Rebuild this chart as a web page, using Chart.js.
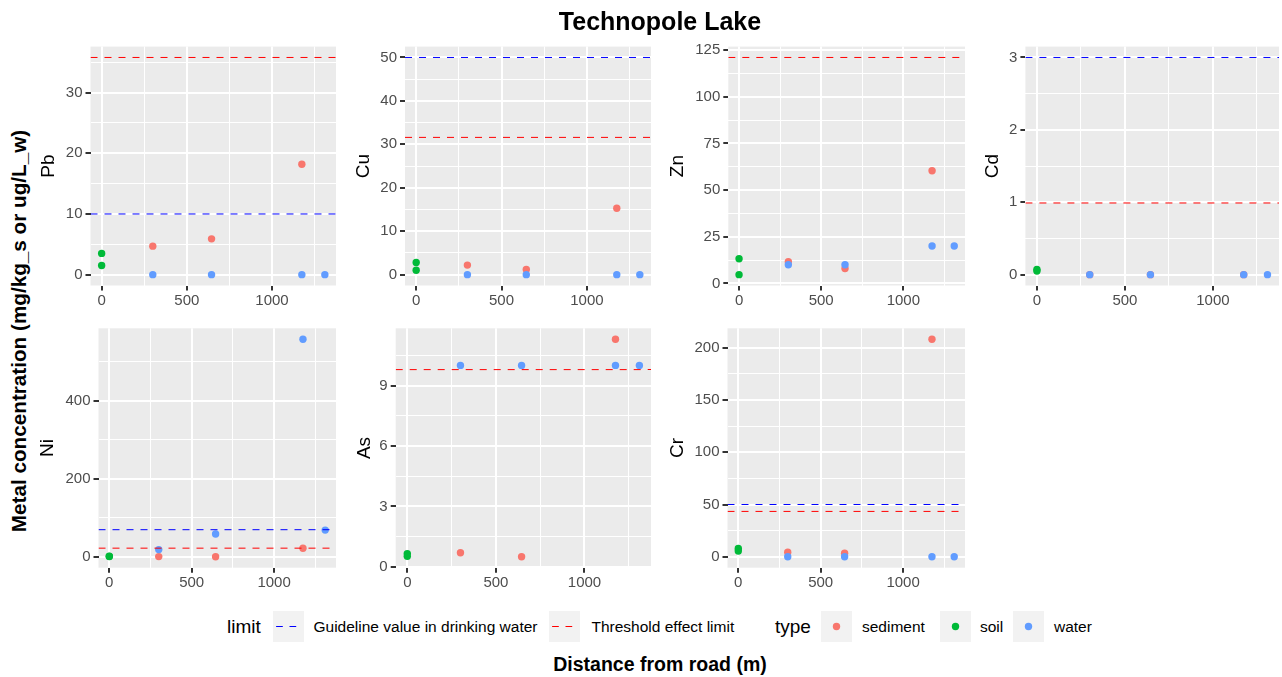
<!DOCTYPE html>
<html>
<head>
<meta charset="utf-8">
<title>Technopole Lake</title>
<script src="https://cdn.jsdelivr.net/npm/chart.js@4.4.1/dist/chart.umd.min.js"></script>
<style>
  html, body { margin: 0; padding: 0; background: #ffffff; overflow: hidden; }
  body { width: 1282px; height: 677px; position: relative; font-family: 'Liberation Sans', Arial, sans-serif; }
  .abs { position: absolute; white-space: nowrap; }
  canvas { position: absolute; display: block; }
  .key { position: absolute; width: 31px; height: 31px; background: #F2F2F2; }
  .key svg { display: block; }
</style>
</head>
<body>
<script>
// ---- data ---------------------------------------------------------------
const metals = ['Pb', 'Cu', 'Zn', 'Cd', 'Ni', 'As', 'Cr'];
const typeNames = ['sediment', 'soil', 'water'];
const limitNames = ['Guideline value in drinking water', 'Threshold effect limit'];

// distance from road (m) of each sample, per sample type
const soilDistance = [0, 0];
const sedimentDistance = [300, 645, 1175];
const waterDistance = [300, 645, 1175, 1310];

// concentrations, one row per metal (same order as `metals`)
const soilValues = [
  [3.5, 1.5], [2.8, 1.0], [13.2, 4.7], [0.07, 0.05], [2, 1.5], [0.66, 0.53], [8, 5.5]
];
const sedimentValues = [
  [4.7, 5.9, 18.2], [2.2, 1.2, 15.3], [11.6, 8.0, 60.3], [0, 0, 0],
  [1, 0.5, 22.5], [0.7, 0.5, 11.3], [4.3, 3.5, 208]
];
const waterValues = [
  [0, 0, 0, 0], [0, 0, 0, 0], [10, 10, 20, 20], [0, 0, 0, 0],
  [19, 59, 558, 69], [10, 10, 10, 10], [0, 0, 0, 0]
];

// reference limits per metal (null = no line)
const guidelineValues = [10, 50, null, 3, 70, null, 50];
const thresholdValues = [35.8, 31.6, 121, 0.99, 22.7, 9.79, 43.4];

// axis breaks
const xBreaks = [0, 500, 1000];
const yBreaks = [
  [0, 10, 20, 30], [0, 10, 20, 30, 40, 50], [0, 25, 50, 75, 100, 125], [0, 1, 2, 3],
  [0, 200, 400], [0, 3, 6, 9], [0, 50, 100, 150, 200]
];

// ---- styling and layout -------------------------------------------------
const FONT = "'Liberation Sans', Arial, sans-serif";
const typeColors = ['#F8766D', '#00BA38', '#619CFF'];
const limitColors = ['#0000FF', '#FF0000'];
const PANEL_BG = '#EBEBEB';

// plotting region of every small panel and the centre of its y title
const panelBoxes = [
  { l: 90.5,  t: 46.6,  r: 336,  b: 285.5, tx: 48 },
  { l: 405,   t: 46.6,  r: 651,  b: 285.5, tx: 363 },
  { l: 728.3, t: 46.6,  r: 965,  b: 285.5, tx: 677.5 },
  { l: 1025.4,t: 46.6,  r: 1279, b: 285.5, tx: 992.5 },
  { l: 98.5,  t: 328.3, r: 336,  b: 567.7, tx: 47.5 },
  { l: 395.7, t: 328.3, r: 651,  b: 567.7, tx: 364 },
  { l: 727.5, t: 328.3, r: 965,  b: 567.7, tx: 677 }
];

Chart.defaults.font.family = FONT;

function expandRange(vals) {
  const lo = Math.min(...vals), hi = Math.max(...vals);
  const pad = (hi - lo) * 0.05;
  return [lo - pad, hi + pad];
}

// major breaks plus the half-way minor breaks that fall inside the range
function withMinor(major, lo, hi) {
  const half = (major[1] - major[0]) / 2;
  const out = [];
  for (let v = major[0] - half; v <= major[major.length - 1] + half + 1e-9; v += half) {
    const r = +v.toFixed(6);
    if (r >= lo && r <= hi) out.push(r);
  }
  return out;
}
const isMajor = (major, v) => major.some(m => Math.abs(m - v) < 1e-9);

const panelBackground = {
  id: 'panelBackground',
  beforeDraw(chart) {
    const { ctx, chartArea: a } = chart;
    ctx.save();
    ctx.fillStyle = PANEL_BG;
    ctx.fillRect(a.left, a.top, a.right - a.left, a.bottom - a.top);
    ctx.restore();
  }
};

const allDistances = [...soilDistance, ...sedimentDistance, ...waterDistance];
const xRange = expandRange(allDistances);
const xTicks = withMinor(xBreaks, xRange[0], xRange[1]);

function axisGrid(major) {
  return {
    color: '#FFFFFF',
    lineWidth: c => (c.tick && isMajor(major, c.tick.value)) ? 2 : 1,
    drawTicks: true,
    tickLength: 5,
    tickWidth: 2,
    tickColor: c => (c.tick && isMajor(major, c.tick.value)) ? '#333333' : 'rgba(0,0,0,0)'
  };
}

function buildPanel(i) {
  const box = panelBoxes[i];
  const titleSize = 19;
  const canvasLeft = Math.round(box.tx - titleSize * 1.2 / 2);
  const canvasTop = Math.round(box.t - 14);
  const w = Math.ceil(box.r + 6 - canvasLeft);
  const h = Math.round(box.b + 30 - canvasTop);
  const yAxisW = box.l - canvasLeft;
  const xAxisH = canvasTop + h - box.b;
  const padTop = box.t - canvasTop;
  const padRight = canvasLeft + w - box.r;

  const cv = document.createElement('canvas');
  cv.width = w; cv.height = h;
  cv.style.left = canvasLeft + 'px';
  cv.style.top = canvasTop + 'px';
  cv.style.width = w + 'px';
  cv.style.height = h + 'px';
  document.body.appendChild(cv);

  const limits = [guidelineValues[i], thresholdValues[i]];
  const yVals = [...soilValues[i], ...sedimentValues[i], ...waterValues[i], ...limits.filter(v => v != null)];
  const yRange = expandRange(yVals);
  const yTicks = withMinor(yBreaks[i], yRange[0], yRange[1]);

  const datasets = [];
  limits.forEach((v, k) => {
    if (v == null) return;
    datasets.push({
      type: 'line',
      label: limitNames[k],
      data: [{ x: xRange[0], y: v }, { x: xRange[1], y: v }],
      borderColor: limitColors[k],
      borderWidth: 1,
      borderDash: [7, 7],
      pointRadius: 0,
      fill: false,
      tension: 0
    });
  });
  const samples = [
    [waterDistance, waterValues[i], 2],
    [soilDistance, soilValues[i], 1],
    [sedimentDistance, sedimentValues[i], 0]
  ];
  samples.forEach(([xs, ys, t]) => {
    datasets.push({
      type: 'scatter',
      label: typeNames[t],
      data: xs.map((x, j) => ({ x, y: ys[j] })),
      backgroundColor: typeColors[t],
      borderWidth: 0,
      pointRadius: 3.7,
      pointHoverRadius: 3.7
    });
  });

  new Chart(cv, {
    type: 'scatter',
    data: { datasets },
    options: {
      responsive: false,
      animation: false,
      devicePixelRatio: 1,
      events: [],
      layout: { padding: { top: padTop, right: padRight, left: 0, bottom: 0 } },
      plugins: { legend: { display: false }, tooltip: { enabled: false } },
      scales: {
        x: {
          type: 'linear',
          min: xRange[0], max: xRange[1],
          afterBuildTicks: s => { s.ticks = xTicks.map(v => ({ value: v })); },
          afterFit: s => { s.height = xAxisH; },
          ticks: {
            autoSkip: false, maxRotation: 0, minRotation: 0, padding: 1,
            color: '#4D4D4D', font: { family: FONT, size: 15 },
            callback: v => isMajor(xBreaks, v) ? String(v) : ''
          },
          grid: axisGrid(xBreaks),
          border: { display: false }
        },
        y: {
          type: 'linear',
          min: yRange[0], max: yRange[1],
          afterBuildTicks: s => { s.ticks = yTicks.map(v => ({ value: v })); },
          afterFit: s => { s.width = yAxisW; },
          title: {
            display: true, text: metals[i], color: '#000000',
            font: { family: FONT, size: titleSize }, padding: 0
          },
          ticks: {
            autoSkip: false, padding: 3,
            color: '#4D4D4D', font: { family: FONT, size: 15 },
            callback: v => isMajor(yBreaks[i], v) ? String(v) : ''
          },
          grid: axisGrid(yBreaks[i]),
          border: { display: false }
        }
      }
    },
    plugins: [panelBackground]
  });
}

metals.forEach((m, i) => buildPanel(i));

// ---- titles -------------------------------------------------------------
function addText(text, css) {
  const d = document.createElement('div');
  d.className = 'abs';
  d.textContent = text;
  Object.assign(d.style, css);
  document.body.appendChild(d);
  return d;
}

addText('Technopole Lake', {
  left: '0px', width: '1320px', top: '7px', textAlign: 'center',
  fontSize: '25px', lineHeight: '28px', fontWeight: 'bold', color: '#000'
});
addText('Distance from road (m)', {
  left: '0px', width: '1320px', top: '652px', textAlign: 'center',
  fontSize: '19.5px', lineHeight: '24px', fontWeight: 'bold', color: '#000'
});
addText('Metal concentration (mg/kg_s or ug/L_w)', {
  left: '19px', top: '331px', fontSize: '20.7px', lineHeight: '24px',
  fontWeight: 'bold', color: '#000',
  transform: 'translate(-50%, -50%) rotate(-90deg)'
});

// ---- legend -------------------------------------------------------------
const LEGEND_TOP = 611;
function legendTitle(text, left) {
  addText(text, { left: left + 'px', top: LEGEND_TOP + 'px', height: '31px', lineHeight: '31px',
                  fontSize: '19px', color: '#000' });
}
function legendLabel(text, left) {
  addText(text, { left: left + 'px', top: LEGEND_TOP + 'px', height: '31px', lineHeight: '31px',
                  fontSize: '15.5px', color: '#000' });
}
function legendKey(left, inner) {
  const k = document.createElement('div');
  k.className = 'key';
  k.style.left = left + 'px';
  k.style.top = LEGEND_TOP + 'px';
  k.innerHTML = '<svg width="31" height="31" xmlns="http://www.w3.org/2000/svg">' + inner + '</svg>';
  document.body.appendChild(k);
}
const lineKey = c => `<line x1="3.1" y1="15.5" x2="27.9" y2="15.5" stroke="${c}" stroke-width="1.2" stroke-dasharray="6.7 6.7"/>`;
const dotKey = c => `<circle cx="15.5" cy="15.5" r="3.7" fill="${c}"/>`;

legendTitle('limit', 227);
legendKey(273, lineKey(limitColors[0]));
legendLabel(limitNames[0], 313.5);
legendKey(549, lineKey(limitColors[1]));
legendLabel(limitNames[1], 591.5);

legendTitle('type', 775);
const typeKeyLefts = [821, 940, 1013];
const typeLabelLefts = [862, 980, 1054];
typeNames.forEach((n, t) => {
  legendKey(typeKeyLefts[t], dotKey(typeColors[t]));
  legendLabel(n, typeLabelLefts[t]);
});
</script>
</body>
</html>
